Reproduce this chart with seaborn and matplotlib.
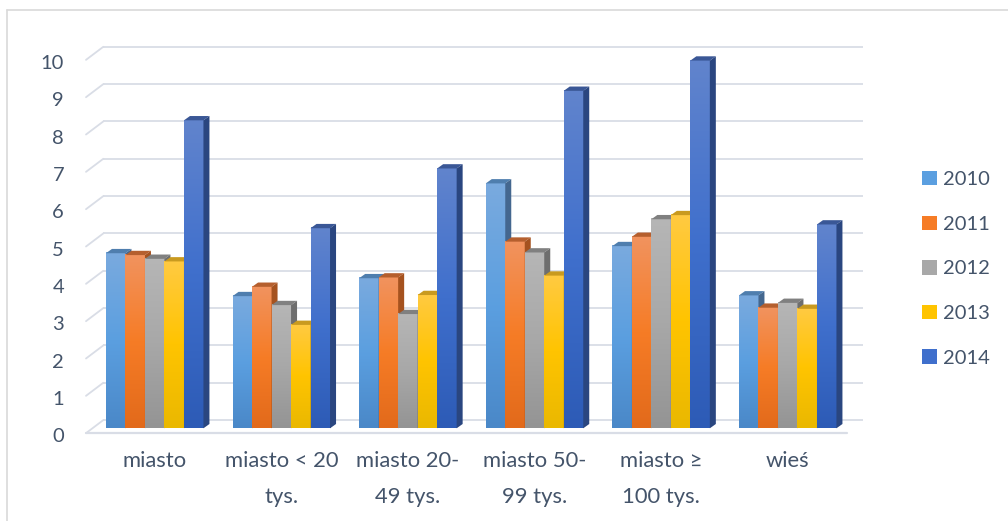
import numpy as np
import pandas as pd
import matplotlib
matplotlib.use("Agg")
import matplotlib.pyplot as plt
import seaborn as sns
from matplotlib.colors import LinearSegmentedColormap, to_rgb
from matplotlib.patches import Polygon, Patch
from matplotlib.lines import Line2D

# ---- data ----
categories = ["miasto", "miasto < 20\ntys.", "miasto 20-\n49 tys.", "miasto 50-\n99 tys.",
              "miasto ≥\n100 tys.", "wieś"]
years = ["2010", "2011", "2012", "2013", "2014"]
v2010 = [4.69, 3.54, 4.02, 6.56, 4.88, 3.56]
v2011 = [4.64, 3.79, 4.04, 5.00, 5.13, 3.23]
v2012 = [4.54, 3.30, 3.06, 4.71, 5.60, 3.36]
v2013 = [4.47, 2.77, 3.57, 4.09, 5.71, 3.20]
v2014 = [8.25, 5.36, 6.96, 9.04, 9.85, 5.46]
y_ticks = list(range(0, 11))

series = {"2010": v2010, "2011": v2011, "2012": v2012, "2013": v2013, "2014": v2014}
df = pd.DataFrame([(c, y, series[y][i]) for y in years for i, c in enumerate(categories)],
                  columns=["cat", "year", "val"])

# ---- styles ----
mid = ["#5b9fe0", "#f67c26", "#a8a8a8", "#ffc400", "#3f6fcc"]
tops = ["#7aaade", "#f1935f", "#b6b6b6", "#ffca42", "#6184cd"]
bots = ["#4a88c8", "#e26a1b", "#949494", "#eab800", "#2d5bb6"]
topface = ["#4f7eae", "#b55f2e", "#808080", "#c99a1f", "#3a5796"]
sideface = ["#44678f", "#a5521f", "#6e6e6e", "#b08812", "#2a4680"]
text_color = "#44546A"
grid_color = "#d9dde6"

sns.set_style("white")
plt.rcParams["font.family"] = ["Lato", "DejaVu Sans"]

fig = plt.figure(figsize=(10.08, 5.21), dpi=100)
ax = fig.add_axes([80 / 1008, 81 / 521, 790 / 1008, 400 / 521])

sns.barplot(data=df, x="cat", y="val", hue="year", order=categories, hue_order=years,
            palette=mid, width=0.77, saturation=1, legend=False, ax=ax)

# pixel -> data conversions
px_x = 126.6          # px per category
px_y = 37.33          # px per unit
dx = 6.0 / px_x
dy = 4.3 / px_y

# back-wall gridlines with floor diagonals
x_front = (86 - 154.7) / px_x
x_back = (103.3 - 154.7) / px_x
x_right = (863 - 154.7) / px_x
for v in y_ticks:
    ax.plot([x_back, x_right], [v + 0.22, v + 0.22], color=grid_color, lw=1.3, zorder=1,
            solid_capstyle="butt")
    ax.plot([x_front, x_back], [v - 0.13, v + 0.22], color=grid_color, lw=1.3, zorder=1)
ax.plot([x_front, (847 - 154.7) / px_x], [-0.13, -0.13], color=grid_color, lw=1.6, zorder=1)

# 3D-looking bars built on seaborn's bar patches
bars = [p for p in ax.patches]
mid_rgb = [to_rgb(c) for c in mid]
bars_sorted = sorted(bars, key=lambda p: p.get_x())
grad = np.linspace(0, 1, 256).reshape(-1, 1)
for rank, p in enumerate(bars_sorted):
    fc = p.get_facecolor()[:3]
    k = int(np.argmin([sum((a - b) ** 2 for a, b in zip(fc, m)) for m in mid_rgb]))
    x0, w, h = p.get_x(), p.get_width(), p.get_height()
    z = 2 + rank * 0.01
    p.set_zorder(z)
    p.set_edgecolor("none")
    cm = LinearSegmentedColormap.from_list("g%d" % k, [bots[k], mid[k], tops[k]])
    ax.imshow(grad, cmap=cm, extent=(x0, x0 + w, 0, h), origin="lower", aspect="auto",
              zorder=z + 0.001, interpolation="bilinear")
    ax.add_patch(Polygon([(x0, h), (x0 + w, h), (x0 + w + dx, h + dy), (x0 + dx, h + dy)],
                         closed=True, facecolor=topface[k], edgecolor="none", zorder=z + 0.002))
    ax.add_patch(Polygon([(x0 + w, 0), (x0 + w + dx, dy), (x0 + w + dx, h + dy), (x0 + w, h)],
                         closed=True, facecolor=sideface[k], edgecolor="none", zorder=z + 0.002))

ax.set_xlim((80 - 154.7) / px_x, (870 - 154.7) / px_x)
ax.set_ylim(-(440 - 428.3) / px_y, (428.3 - 40) / px_y)

ax.set_yticks([v - 0.19 for v in y_ticks])
ax.set_yticklabels([str(v) for v in y_ticks])
ax.set_xticks(range(len(categories)))
ax.set_xticklabels(categories, linespacing=2.0)
ax.tick_params(axis="y", length=0, pad=11.5, labelsize=14.5, labelcolor=text_color)
ax.tick_params(axis="x", length=0, pad=8, labelsize=15.8, labelcolor=text_color)
ax.set_xlabel("")
ax.set_ylabel("")
for s in ax.spines.values():
    s.set_visible(False)
ax.grid(False)

# legend
handles = [Patch(facecolor=mid[i], edgecolor="none", label=years[i]) for i in range(len(years))]
leg = fig.legend(handles=handles, loc="center left", bbox_to_anchor=(922 / 1008, 252.2 / 521),
                 frameon=False, fontsize=14.5, handlelength=0.72, handleheight=0.72,
                 handletextpad=0.3, labelspacing=1.36, borderpad=0, borderaxespad=0)
for t in leg.get_texts():
    t.set_color(text_color)

# chart border (top and left visible)
fig.add_artist(Line2D([7 / 1008, 1.0], [1 - 10 / 521, 1 - 10 / 521], color="#d9d9d9", lw=1.2))
fig.add_artist(Line2D([7 / 1008, 7 / 1008], [0, 1 - 10 / 521], color="#d9d9d9", lw=1.2))

fig.savefig("out.png", dpi=100)
